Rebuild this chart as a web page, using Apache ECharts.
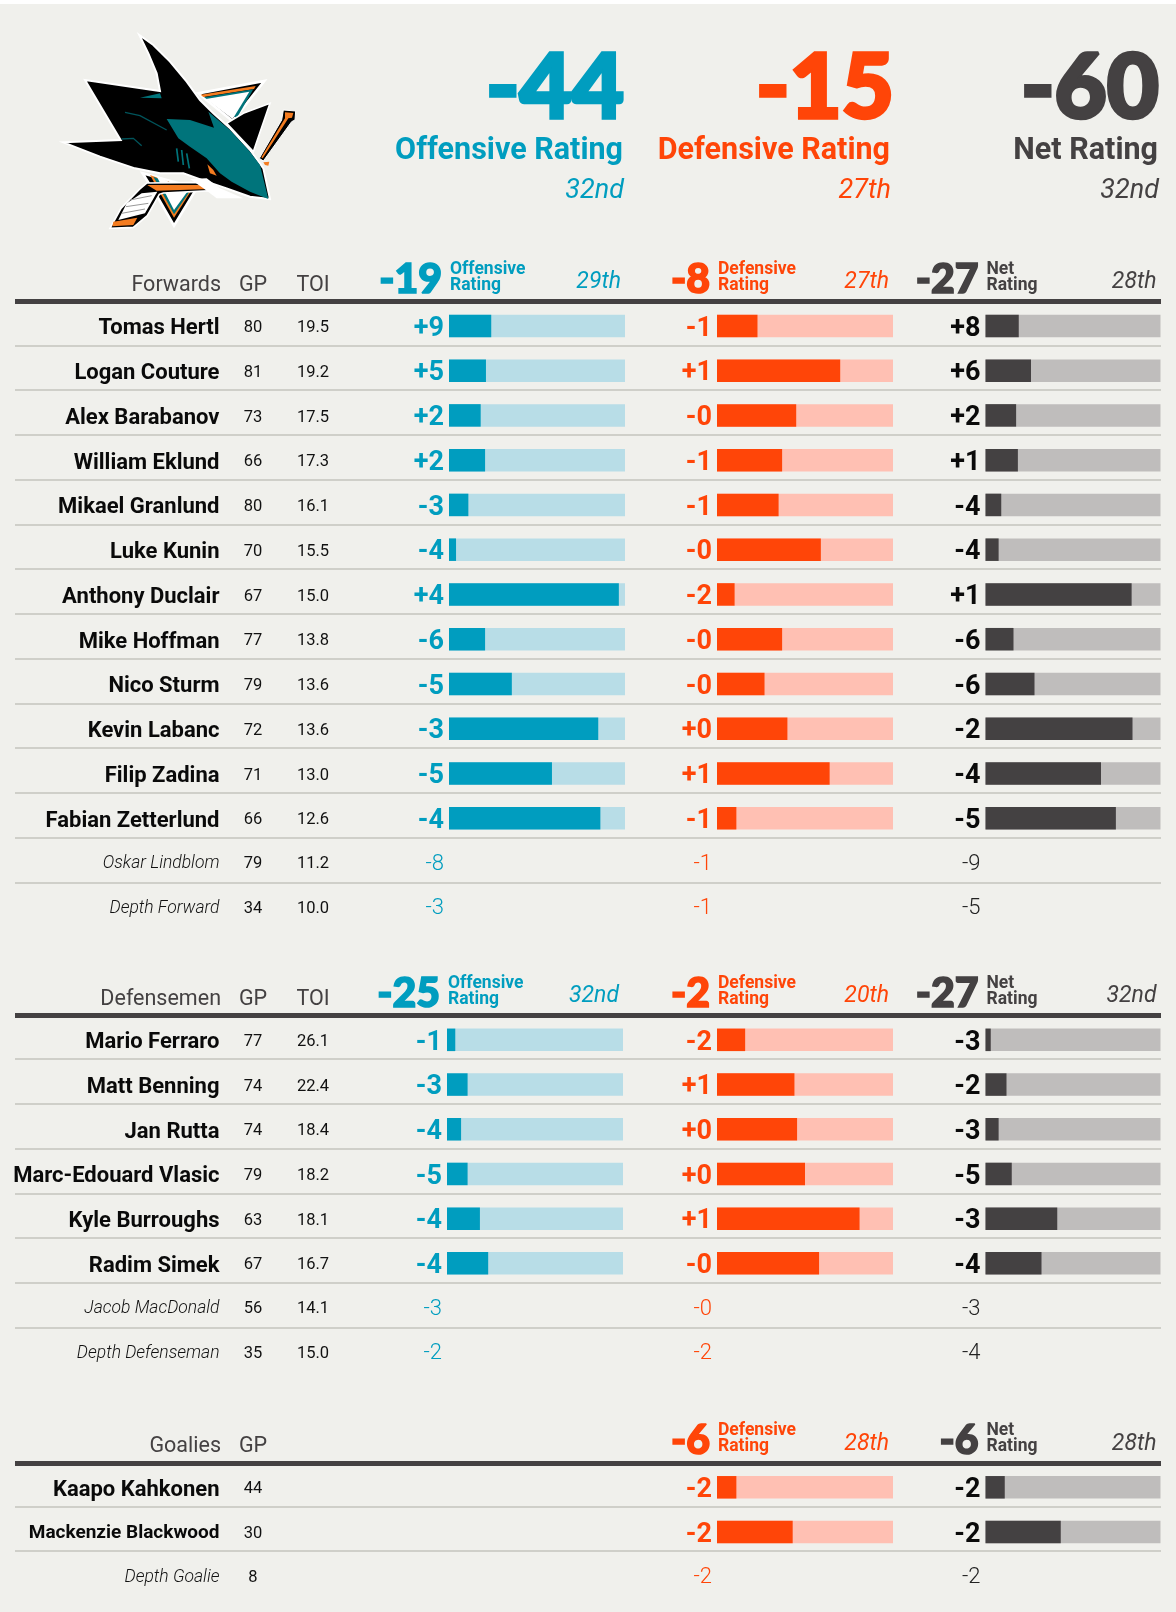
<!DOCTYPE html>
<html>
<head>
<meta charset="utf-8">
<style>
  html, body { margin: 0; padding: 0; background: #f0f0ec; }
  #main { width: 1176px; height: 1612px; }
</style>
<script src="https://cdn.jsdelivr.net/npm/echarts@6/dist/echarts.min.js"></script>
</head>
<body>
<div id="main"></div>
<script>
// forwards
var forwardNames = ["Tomas Hertl", "Logan Couture", "Alex Barabanov", "William Eklund", "Mikael Granlund", "Luke Kunin", "Anthony Duclair", "Mike Hoffman", "Nico Sturm", "Kevin Labanc", "Filip Zadina", "Fabian Zetterlund", "Oskar Lindblom", "Depth Forward"];
var forwardGP = ["80", "81", "73", "66", "80", "70", "67", "77", "79", "72", "71", "66", "79", "34"];
var forwardTOI = ["19.5", "19.2", "17.5", "17.3", "16.1", "15.5", "15.0", "13.8", "13.6", "13.6", "13.0", "12.6", "11.2", "10.0"];
var forwardOff = ["+9", "+5", "+2", "+2", "-3", "-4", "+4", "-6", "-5", "-3", "-5", "-4", "-8", "-3"];
var forwardDef = ["-1", "+1", "-0", "-1", "-1", "-0", "-2", "-0", "-0", "+0", "+1", "-1", "-1", "-1"];
var forwardNet = ["+8", "+6", "+2", "+1", "-4", "-4", "+1", "-6", "-6", "-2", "-4", "-5", "-9", "-5"];
var forwardOffPct = [0.24, 0.21, 0.18, 0.205, 0.11, 0.04, 0.965, 0.205, 0.357, 0.848, 0.585, 0.86];
var forwardDefPct = [0.23, 0.70, 0.45, 0.37, 0.35, 0.59, 0.10, 0.37, 0.27, 0.40, 0.64, 0.11];
var forwardNetPct = [0.19, 0.26, 0.175, 0.185, 0.09, 0.075, 0.835, 0.16, 0.28, 0.84, 0.66, 0.745];

// defensemen
var defenseNames = ["Mario Ferraro", "Matt Benning", "Jan Rutta", "Marc-Edouard Vlasic", "Kyle Burroughs", "Radim Simek", "Jacob MacDonald", "Depth Defenseman"];
var defenseGP = ["77", "74", "74", "79", "63", "67", "56", "35"];
var defenseTOI = ["26.1", "22.4", "18.4", "18.2", "18.1", "16.7", "14.1", "15.0"];
var defenseOff = ["-1", "-3", "-4", "-5", "-4", "-4", "-3", "-2"];
var defenseDef = ["-2", "+1", "+0", "+0", "+1", "-0", "-0", "-2"];
var defenseNet = ["-3", "-2", "-3", "-5", "-3", "-4", "-3", "-4"];
var defenseOffPct = [0.047, 0.117, 0.08, 0.117, 0.187, 0.234];
var defenseDefPct = [0.16, 0.44, 0.455, 0.50, 0.81, 0.58];
var defenseNetPct = [0.03, 0.12, 0.075, 0.15, 0.41, 0.32];

// goalies
var goalieNames = ["Kaapo Kahkonen", "Mackenzie Blackwood", "Depth Goalie"];
var goalieGP = ["44", "30", "8"];
var goalieDef = ["-2", "-2", "-2"];
var goalieNet = ["-2", "-2", "-2"];
var goalieDefPct = [0.11, 0.43];
var goalieNetPct = [0.11, 0.43];

var FONT = "Roboto", HEAVY_FONT = "Lato";
var BLUE = "#009dbf", BLUE_LT = "#b8dde7";
var RED = "#ff4508", RED_LT = "#ffc0b3";
var DARK = "#444142", DARK_LT = "#bfbdbc";

var grids = [], xAxes = [], yAxes = [], seriesList = [], texts = [];

function addGrid(left, width, top, height, xAxis, yAxis) {
  var i = grids.length;
  grids.push({ left: left, width: width, top: top, height: height });
  xAxis.gridIndex = i;
  yAxis.gridIndex = i;
  xAxes.push(xAxis);
  yAxes.push(yAxis);
  return i;
}

function hiddenX() {
  return { type: "value", min: 0, max: 1, show: false };
}

function text(x, y, str, size, color, align, weight, italic, lineHeight) {
  var heavy = weight == 900;
  texts.push({
    type: "text", x: x, y: y, z: 10, silent: true,
    style: {
      text: str, fill: color, align: align, verticalAlign: "middle",
      font: (italic ? "italic " : "") + weight + " " + size + "px " + (heavy ? HEAVY_FONT : FONT),
      lineHeight: lineHeight,
      // Lato tops out lighter than the picture, so thicken it with a stroke
      stroke: heavy ? color : null,
      lineWidth: heavy ? size * 0.04 : 0
    }
  });
}

// heavy rule plus the thin row lines
function addFrame(rule, height, rows) {
  addGrid(15, 1146, rule - 1, height,
    { type: "value", min: 0, max: 1, position: "top", offset: -1,
      axisLine: { show: true, onZero: false, lineStyle: { color: DARK, width: 5, cap: "butt" } },
      axisTick: { show: false }, axisLabel: { show: false }, splitLine: { show: false } },
    { type: "category", inverse: true, data: rows,
      axisLine: { show: false }, axisTick: { show: false }, axisLabel: { show: false },
      splitLine: { show: true, interval: 0, showMinLine: false, showMaxLine: false,
        lineStyle: { color: "#cfcfc9", width: 2 } } });
}

// a plain column of text: names, GP, TOI
function addTextColumn(left, top, height, labels, align, barCount, strong, light) {
  addGrid(left, 1, top, height, hiddenX(), {
    type: "category", inverse: true, data: labels,
    axisLine: { show: false }, axisTick: { show: false },
    axisLabel: {
      interval: 0, margin: 0, align: align, hideOverlap: false,
      formatter: function (v, i) {
        if (shrunkNames.indexOf(v) >= 0) return "{n|" + v + "}";
        return (i < barCount ? "{s|" : "{l|") + v + "}";
      },
      rich: { s: strong, l: light, n: nameSmall }
    }
  });
}

function addRating(left, width, top, height, labels, pct, fill, track, labelColor, lightColor) {
  var n = pct.length;
  var idx = addGrid(left, width, top, height, hiddenX(), {
    type: "category", inverse: true, data: labels,
    axisLine: { show: false }, axisTick: { show: false },
    axisLabel: {
      interval: 0, margin: 5, hideOverlap: false,
      formatter: function (v, i) {
        return (i < n ? "{b|" : "{l|") + v + "}";
      },
      rich: {
        b: { fontFamily: FONT, fontWeight: 700, fontSize: 27, color: labelColor, padding: [6, 0, 0, 0] },
        l: { fontFamily: FONT, fontWeight: 300, fontSize: 22, color: lightColor, padding: [2, 0, 0, 0] }
      }
    }
  });
  seriesList.push({
    type: "bar", xAxisIndex: idx, yAxisIndex: idx, barWidth: 22.5, barGap: "-100%",
    silent: true, itemStyle: { color: track },
    data: pct.map(function () { return 1; })
  });
  seriesList.push({
    type: "bar", xAxisIndex: idx, yAxisIndex: idx, barWidth: 22.5, barGap: "-100%",
    silent: true, itemStyle: { color: fill }, data: pct
  });
}

function addHeader(rule, barLeft, barRight, total, line1, rank, color) {
  var base = rule - 10;
  text(barLeft - 7, base - 12, total, 41, color, "right", 900);
  text(barLeft + 1, rule - 24, line1 + "\nRating", 17.5, color, "left", 700, false, 16);
  text(barRight - 4, base - 9, rank, 23, color, "right", 400, true);
}

var shrunkNames = ["Mackenzie Blackwood"];
var nameStrong = { fontFamily: FONT, fontWeight: 700, fontSize: 22, color: "#0a0a0a", padding: [6, 0, 0, 0] };
var nameSmall = { fontFamily: FONT, fontWeight: 700, fontSize: 19, color: "#0a0a0a", padding: [2, 0, 0, 0] };
var nameLight = { fontFamily: FONT, fontWeight: 300, fontStyle: "italic", fontSize: 17.5, color: "#111", padding: [2, 0, 0, 0] };
var numStrong = { fontFamily: FONT, fontWeight: 400, fontSize: 16.5, color: "#111", padding: [4, 0, 0, 0] };
var numLight = { fontFamily: FONT, fontWeight: 400, fontSize: 16.5, color: "#111", padding: [2, 0, 0, 0] };

function addSection(rule, pitch, title, names, gp, toi, barCount, cols) {
  var n = names.length, h = n * pitch, rowTop = rule + 2;
  addFrame(rule, h, names);
  addTextColumn(219.5, rowTop, h, names, "right", barCount, nameStrong, nameLight);
  addTextColumn(253, rowTop, h, gp, "center", barCount, numStrong, numLight);
  text(221, rule - 16, title, 21.5, DARK, "right", 400);
  text(253, rule - 16, "GP", 21.5, DARK, "center", 400);
  if (toi) {
    addTextColumn(313, rowTop, h, toi, "center", barCount, numStrong, numLight);
    text(313, rule - 16, "TOI", 21.5, DARK, "center", 400);
  }
  cols.forEach(function (c) {
    addRating(c.left, c.width, rowTop, h, c.labels, c.pct, c.fill, c.track, c.labelColor, c.lightColor);
    addHeader(rule, c.left, c.left + c.width, c.total, c.line1, c.rank, c.fill);
  });
}

addSection(301.5, 44.76, "Forwards", forwardNames, forwardGP, forwardTOI, 12, [
  { left: 449, width: 176, labels: forwardOff, pct: forwardOffPct, fill: BLUE, track: BLUE_LT, labelColor: BLUE, lightColor: BLUE, total: "-19", line1: "Offensive", rank: "29th" },
  { left: 717, width: 176, labels: forwardDef, pct: forwardDefPct, fill: RED, track: RED_LT, labelColor: RED, lightColor: RED, total: "-8", line1: "Defensive", rank: "27th" },
  { left: 985.5, width: 175, labels: forwardNet, pct: forwardNetPct, fill: DARK, track: DARK_LT, labelColor: "#0a0a0a", lightColor: "#222", total: "-27", line1: "Net", rank: "28th" }
]);
addSection(1015.5, 44.7, "Defensemen", defenseNames, defenseGP, defenseTOI, 6, [
  { left: 447, width: 176, labels: defenseOff, pct: defenseOffPct, fill: BLUE, track: BLUE_LT, labelColor: BLUE, lightColor: BLUE, total: "-25", line1: "Offensive", rank: "32nd" },
  { left: 717, width: 176, labels: defenseDef, pct: defenseDefPct, fill: RED, track: RED_LT, labelColor: RED, lightColor: RED, total: "-2", line1: "Defensive", rank: "20th" },
  { left: 985.5, width: 175, labels: defenseNet, pct: defenseNetPct, fill: DARK, track: DARK_LT, labelColor: "#0a0a0a", lightColor: "#222", total: "-27", line1: "Net", rank: "32nd" }
]);
addSection(1463, 44.6, "Goalies", goalieNames, goalieGP, null, 2, [
  { left: 717, width: 176, labels: goalieDef, pct: goalieDefPct, fill: RED, track: RED_LT, labelColor: RED, lightColor: RED, total: "-6", line1: "Defensive", rank: "28th" },
  { left: 985.5, width: 175, labels: goalieNet, pct: goalieNetPct, fill: DARK, track: DARK_LT, labelColor: "#0a0a0a", lightColor: "#222", total: "-6", line1: "Net", rank: "28th" }
]);

// big numbers at the top
function addHeadline(right, numberRight, value, label, rank, color) {
  text(numberRight, 89, value, 90, color, "right", 900);
  text(right - 1, 151, label, 30.5, color, "right", 700);
  text(right, 191, rank, 27, color, "right", 400, true);
}
addHeadline(624, 624, "-44", "Offensive Rating", "32nd", BLUE);
addHeadline(891, 894, "-15", "Defensive Rating", "27th", RED);
addHeadline(1159, 1159, "-60", "Net Rating", "32nd", DARK);

// logo, traced by hand
function poly(points, fill, stroke, lineWidth) {
  return { type: "polygon", shape: { points: points },
    style: { fill: fill, stroke: stroke || null, lineWidth: lineWidth || 0, lineJoin: "miter" } };
}
function line(points, color, width) {
  return { type: "polyline", shape: { points: points },
    style: { fill: null, stroke: color, lineWidth: width } };
}
var TEAL = "#00747b", ORANGE = "#f47c20";
var logo = {
  type: "group", x: 50, y: 25, scaleX: 1 / 3, scaleY: 1 / 3, silent: true,
  children: [
    poly([[445, 205], [643, 168], [548, 288]], "#000", "#fff", 8),
    poly([[452, 209], [617, 183], [612, 192], [460, 216]], ORANGE),
    poly([[462, 217], [610, 193], [560, 280]], TEAL),
    poly([[468, 222], [598, 200], [548, 282]], "#fff"),
    poly([[278, 445], [440, 490], [372, 602], [325, 520]], "#000", "#fff", 8),
    poly([[300, 450], [425, 495], [372, 578]], ORANGE),
    poly([[310, 455], [420, 498], [372, 568]], TEAL),
    poly([[318, 450], [412, 500], [372, 555]], "#fff"),
    poly([[290, 474], [482, 472], [488, 497], [340, 504], [328, 508], [292, 572], [250, 607], [180, 610], [213, 550], [268, 493]], "#000", "#fff", 5),
    poly([[292, 480], [478, 480], [480, 492], [320, 497]], ORANGE),
    poly([[275, 505], [322, 500], [285, 565], [205, 585], [230, 535]], "#fff"),
    line([[240, 525], [305, 512]], "#999", 3),
    line([[228, 545], [295, 535]], "#999", 3),
    line([[215, 565], [285, 552]], "#999", 3),
    poly([[190, 590], [262, 578], [250, 600], [187, 604]], ORANGE),
    poly([[700, 255], [737, 258], [735, 285], [725, 290], [640, 408], [628, 400], [695, 285]], "#000", "#fff", 3),
    poly([[705, 262], [730, 264], [726, 278], [715, 280], [638, 400], [634, 397], [705, 280]], ORANGE),
    poly([[640, 412], [658, 410], [655, 422], [645, 420]], ORANGE),
    poly([[660, 235], [610, 380], [530, 295], [580, 265]], "#000", "#fff", 5),
    poly([[268, 30], [310, 60], [360, 110], [410, 170], [450, 225], [490, 265], [540, 310], [600, 375], [640, 430], [660, 522], [600, 515], [530, 490], [470, 470], [400, 445], [330, 445], [255, 430], [150, 395], [40, 352], [212, 345], [105, 165], [330, 198], [320, 145], [295, 85]], "#000", "#fff", 6),
    poly([[350, 282], [420, 285], [492, 308], [475, 260], [540, 315], [600, 380], [630, 420], [655, 522], [600, 500], [545, 470], [510, 445], [470, 400], [420, 365], [385, 340]], TEAL),
    poly([[270, 218], [330, 205], [335, 220]], TEAL),
    line([[225, 262], [270, 272], [350, 315]], "#00545b", 4),
    line([[215, 342], [250, 340], [275, 362]], "#00545b", 4),
    line([[380, 370], [385, 410]], TEAL, 5),
    line([[395, 375], [400, 420]], TEAL, 5),
    line([[410, 385], [418, 430]], TEAL, 5),
    poly([[472, 418], [490, 435], [500, 452], [480, 445]], ORANGE),
    poly([[420, 462], [470, 460], [510, 490], [545, 505], [580, 520], [500, 520], [460, 490]], "#fff")
  ]
};

var chart = echarts.init(document.getElementById("main"));
chart.setOption({
  animation: false,
  backgroundColor: "#f0f0ec",
  grid: grids,
  xAxis: xAxes,
  yAxis: yAxes,
  series: seriesList,
  graphic: [
    { type: "rect", shape: { x: 0, y: 0, width: 1176, height: 4 }, style: { fill: "#fff" }, silent: true },
    logo
  ].concat(texts)
});
window.addEventListener("resize", chart.resize);
</script>
</body>
</html>
